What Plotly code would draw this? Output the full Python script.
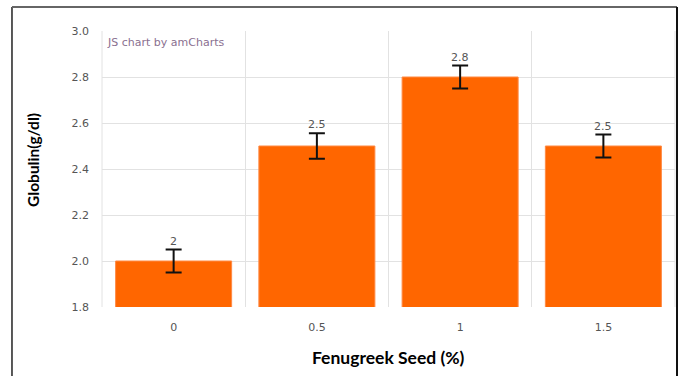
import plotly.graph_objects as go

categories = ["0", "0.5", "1", "1.5"]
values = [2.0, 2.5, 2.8, 2.5]
errors = [0.05, 0.055, 0.05, 0.05]
value_labels = ["2", "2.5", "2.8", "2.5"]
y_ticks = [1.8, 2.0, 2.2, 2.4, 2.6, 2.8, 3.0]

fig = go.Figure()
fig.add_trace(go.Bar(
    x=categories, y=values,
    marker=dict(color="#FF6600", line=dict(color="#FF8A45", width=1)),
    width=0.81,
    error_y=dict(type="data", array=errors, visible=True, color="#111111", thickness=2, width=8),
    hoverinfo="skip",
))

for i, (v, e, t) in enumerate(zip(values, errors, value_labels)):
    fig.add_annotation(x=i, y=v + e, text=t, showarrow=False, yanchor="bottom", yshift=0,
                       font=dict(family="DejaVu Sans", size=11, color="#555555"))

fig.add_annotation(xref="paper", yref="paper", x=0, y=1, xshift=3, yshift=-3, xanchor="left", yanchor="top",
                   text="JS chart by amCharts", showarrow=False,
                   font=dict(family="DejaVu Sans", size=11, color="#8a7090"))
fig.add_annotation(xref="paper", yref="paper", x=0.5, y=0, yshift=-50, xanchor="center", yanchor="middle",
                   text="<b>Fenugreek Seed (%)</b>", showarrow=False,
                   font=dict(family="Lato", size=17.5, color="#000000"))
fig.add_annotation(xref="paper", yref="paper", x=0, y=0.533, xshift=-69, xanchor="center", yanchor="middle",
                   text="<b>Globulin(g/dl)</b>", textangle=-90, showarrow=False,
                   font=dict(family="Lato", size=15.5, color="#000000"))

# outer frame
fig.add_shape(type="line", xref="paper", yref="paper", x0=-0.1571, x1=-0.1571, y0=1.087, y1=-0.3,
              line=dict(color="#222222", width=1.5))
fig.add_shape(type="line", xref="paper", yref="paper", x0=-0.1571, x1=1.0035, y0=1.087, y1=1.087,
              line=dict(color="#666666", width=2))
fig.add_shape(type="line", xref="paper", yref="paper", x0=1.0035, x1=1.0035, y0=1.087, y1=-0.3,
              line=dict(color="#111111", width=2))

fig.update_layout(
    width=679, height=376,
    margin=dict(l=102, r=4, t=31, b=69),
    paper_bgcolor="white", plot_bgcolor="white",
    showlegend=False,
    font=dict(family="DejaVu Sans", size=11, color="#555555"),
    xaxis=dict(type="category", tickson="boundaries", showgrid=True, gridcolor="#e2e2e2", gridwidth=1,
               ticks="", showline=False, zeroline=False, ticklabelstandoff=12,
               tickfont=dict(family="DejaVu Sans", size=11, color="#555555"), range=[-0.5, 3.5]),
    yaxis=dict(range=[1.8, 3.0], tickvals=y_ticks, ticktext=[f"{t:.1f}" for t in y_ticks],
               showgrid=True, gridcolor="#e2e2e2", zeroline=False, showline=False, ticks="",
               ticklabelstandoff=12, tickfont=dict(family="DejaVu Sans", size=11, color="#555555")),
)
fig.add_shape(type="line", xref="paper", yref="paper", x0=0, x1=0, y0=0, y1=1, line=dict(color="#e2e2e2", width=1), layer="below")
fig.add_shape(type="line", xref="paper", yref="paper", x0=1, x1=1, y0=0, y1=1, line=dict(color="#e2e2e2", width=1), layer="below")

fig.write_html("out.html", config={"displayModeBar": False},
               post_script="document.body.style.margin='0';document.body.style.overflow='hidden';")
